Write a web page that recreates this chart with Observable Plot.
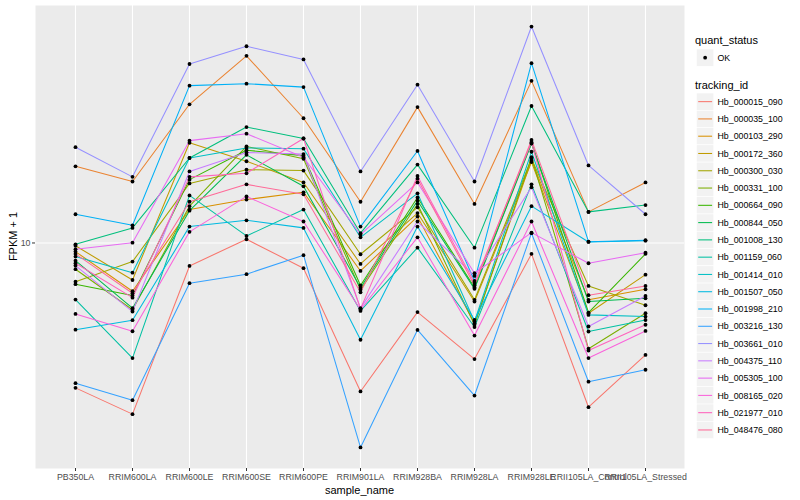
<!DOCTYPE html>
<html>
<head>
<meta charset="utf-8">
<script src="https://cdn.jsdelivr.net/npm/d3@7"></script>
<script src="https://cdn.jsdelivr.net/npm/@observablehq/plot@0.6"></script>
<style>
  html, body { margin: 0; padding: 0; background: #ffffff; }
  #chart { width: 800px; height: 500px; }
</style>
</head>
<body>
<div id="chart"></div>
<script>
// ---- data (FPKM + 1) ----
const samples = ["PB350LA","RRIM600LA","RRIM600LE","RRIM600SE","RRIM600PE","RRIM901LA","RRIM928BA","RRIM928LA","RRIM928LE","RRII105LA_Control","RRII105LA_Stressed"];
const trackingIds = ["Hb_000015_090","Hb_000035_100","Hb_000103_290","Hb_000172_360","Hb_000300_030","Hb_000331_100","Hb_000664_090","Hb_000844_050","Hb_001008_130","Hb_001159_060","Hb_001414_010","Hb_001507_050","Hb_001998_210","Hb_003216_130","Hb_003661_010","Hb_004375_110","Hb_005305_100","Hb_008165_020","Hb_021977_010","Hb_048476_080"];
const quantStatus = ["OK"];

const Hb_000015_090 = [3.67, 3.06, 8.53, 10.26, 8.40, 3.58, 6.20, 4.48, 9.27, 3.21, 4.61];
const Hb_000035_100 = [17.0, 15.3, 26.1, 36.5, 23.7, 13.3, 25.6, 13.1, 30.7, 12.4, 15.2];
const Hb_000103_290 = [9.42, 7.16, 12.6, 13.5, 14.2, 8.24, 12.0, 5.74, 17.7, 6.75, 7.26];
const Hb_000172_360 = [9.81, 7.74, 20.0, 17.6, 15.2, 8.65, 12.3, 6.67, 17.5, 6.15, 8.03];
const Hb_000300_030 = [7.65, 8.79, 15.1, 16.6, 16.5, 9.25, 12.8, 6.75, 17.9, 7.43, 6.50];
const Hb_000331_100 = [8.34, 6.30, 12.9, 19.5, 17.9, 7.23, 13.1, 5.68, 18.1, 4.81, 6.15];
const Hb_000664_090 = [7.52, 6.95, 15.5, 19.0, 18.3, 7.45, 13.7, 7.35, 20.0, 6.18, 9.27];
const Hb_000844_050 = [8.85, 6.37, 12.5, 18.4, 14.8, 7.34, 13.4, 7.28, 19.9, 6.67, 6.82];
const Hb_001008_130 = [9.91, 11.1, 18.0, 22.3, 20.6, 10.7, 17.2, 9.68, 25.8, 12.4, 13.0];
const Hb_001159_060 = [6.76, 4.51, 13.9, 10.5, 12.6, 6.25, 9.68, 5.59, 15.0, 5.42, 5.87];
const Hb_001414_010 = [9.10, 8.14, 18.0, 19.3, 19.2, 10.4, 14.1, 5.81, 18.8, 6.08, 6.01];
const Hb_001507_050 = [5.49, 5.86, 11.2, 11.7, 11.1, 5.12, 11.2, 5.87, 12.9, 10.07, 10.16];
const Hb_001998_210 = [12.2, 11.3, 29.7, 30.1, 29.4, 11.2, 18.9, 7.69, 34.7, 10.09, 10.19];
const Hb_003216_130 = [3.79, 3.37, 7.57, 8.06, 9.19, 2.43, 5.48, 3.48, 10.7, 3.83, 4.16];
const Hb_003661_010 = [19.4, 15.8, 34.5, 39.0, 35.6, 16.4, 29.9, 15.3, 44.7, 17.1, 12.2];
const Hb_004375_110 = [8.55, 6.22, 16.4, 18.7, 18.5, 6.37, 11.6, 7.96, 14.7, 5.61, 6.93];
const Hb_005305_100 = [9.57, 10.02, 20.3, 21.3, 18.1, 10.6, 15.2, 8.11, 10.74, 8.69, 9.35];
const Hb_008165_020 = [6.12, 5.43, 10.8, 13.8, 11.6, 6.30, 10.4, 5.27, 11.6, 4.51, 5.44];
const Hb_021977_010 = [8.69, 6.85, 15.8, 16.2, 20.6, 6.34, 15.9, 7.59, 20.1, 4.75, 5.68];
const Hb_048476_080 = [9.27, 7.06, 13.3, 15.0, 14.0, 7.11, 15.6, 7.45, 20.4, 6.97, 7.43];

const seriesValues = [Hb_000015_090, Hb_000035_100, Hb_000103_290, Hb_000172_360, Hb_000300_030,
  Hb_000331_100, Hb_000664_090, Hb_000844_050, Hb_001008_130, Hb_001159_060, Hb_001414_010,
  Hb_001507_050, Hb_001998_210, Hb_003216_130, Hb_003661_010, Hb_004375_110, Hb_005305_100,
  Hb_008165_020, Hb_021977_010, Hb_048476_080];

// ---- table for the library ----
const rows = [];
trackingIds.forEach((id, i) => {
  samples.forEach((s, j) => rows.push({tracking_id: id, sample_name: s, value: seriesValues[i][j], quant_status: "OK"}));
});

// ggplot2-like hue palette (polar LUV, c=100, l=65)
function hclHex(h, c, l) {
  const hr = h * Math.PI / 180;
  const U = c * Math.cos(hr), V = c * Math.sin(hr);
  const Xn = 95.047, Yn = 100, Zn = 108.883;
  const Y = l > 8 ? Yn * Math.pow((l + 16) / 116, 3) : Yn * l / 903.3;
  const den = Xn + 15 * Yn + 3 * Zn;
  const un = 4 * Xn / den, vn = 9 * Yn / den;
  const u = U / (13 * l) + un, v = V / (13 * l) + vn;
  const X = 9 * Y * u / (4 * v);
  const Z = Y * (12 - 3 * u - 20 * v) / (4 * v);
  const x = X / 100, y = Y / 100, z = Z / 100;
  let r = 3.240479 * x - 1.53715 * y - 0.498535 * z;
  let g = -0.969256 * x + 1.875992 * y + 0.041556 * z;
  let b = 0.055648 * x - 0.204043 * y + 1.057311 * z;
  const gam = t => { t = t <= 0.0031308 ? 12.92 * t : 1.055 * Math.pow(t, 1 / 2.4) - 0.055; return Math.max(0, Math.min(1, t)); };
  return d3.rgb(gam(r) * 255, gam(g) * 255, gam(b) * 255).formatHex();
}
const n = trackingIds.length;
const palette = trackingIds.map((_, i) => hclHex(15 + 360 * i / n, 100, 65));

// y domain: data range expanded by 5% on log scale (ggplot default)
const [vmin, vmax] = d3.extent(rows, d => d.value);
const lmin = Math.log10(vmin), lmax = Math.log10(vmax), pad = (lmax - lmin) * 0.05;
const yDomain = [Math.pow(10, lmin - pad), Math.pow(10, lmax + pad)];

const W = 800, H = 500;
const mL = 35, mR = 116, mT = 5, mB = 32;

const chart = Plot.plot({
  width: W, height: H,
  marginLeft: mL, marginRight: mR, marginTop: mT, marginBottom: mB,
  style: {fontFamily: "'Liberation Sans', Arial, Helvetica, sans-serif", fontSize: "8.8px", background: "#ffffff", color: "#4D4D4D"},
  x: {type: "point", domain: samples, padding: 0.6, label: null},
  y: {type: "log", domain: yDomain, label: null},
  color: {domain: trackingIds, range: palette},
  marks: [
    Plot.frame({fill: "#EBEBEB", stroke: null}),
    Plot.ruleX(samples, {x: d => d, stroke: "#ffffff", strokeWidth: 1.1}),
    Plot.ruleY([10], {y: d => d, stroke: "#ffffff", strokeWidth: 1.1}),
    Plot.axisY({ticks: [10], tickFormat: d => String(d), tickSize: 3, tickPadding: 2, stroke: "#333333", fill: "#4D4D4D", label: null, fontSize: 8.8}),
    Plot.axisX({tickSize: 3, tickPadding: 2, stroke: "#333333", fill: "#4D4D4D", label: null, fontSize: 8.8}),
    Plot.line(rows, {x: "sample_name", y: "value", z: "tracking_id", stroke: "tracking_id", strokeWidth: 1.05}),
    Plot.dot(rows, {x: "sample_name", y: "value", fill: "#000000", r: 1.9, stroke: null})
  ]
});
document.getElementById("chart").appendChild(chart);

// ---- axis titles and legend (drawn into the same SVG) ----
const svg = d3.select(chart);
const font = "'Liberation Sans', Arial, Helvetica, sans-serif";
svg.append("text").attr("x", mL + (W - mL - mR) / 2).attr("y", 494).attr("text-anchor", "middle")
  .attr("font-family", font).attr("font-size", 11).attr("fill", "#000").text("sample_name");
svg.append("text").attr("transform", `translate(17,${mT + (H - mT - mB) / 2}) rotate(-90)`).attr("text-anchor", "middle")
  .attr("font-family", font).attr("font-size", 11).attr("fill", "#000").text("FPKM + 1");

const lg = svg.append("g").attr("font-family", font).attr("text-anchor", "start");
const keyX = 696.5, keyS = 17.28, labX = 717.5;
lg.append("text").attr("x", 695).attr("y", 44).attr("text-anchor", "start").attr("font-size", 11).attr("fill", "#000").text("quant_status");
quantStatus.forEach((q, i) => {
  const y0 = 49 + i * keyS;
  lg.append("rect").attr("x", keyX).attr("y", y0).attr("width", keyS).attr("height", keyS).attr("fill", "#F2F2F2").attr("stroke", "#fff").attr("stroke-width", 0.6);
  lg.append("circle").attr("cx", keyX + keyS / 2).attr("cy", y0 + keyS / 2).attr("r", 1.9).attr("fill", "#000");
  lg.append("text").attr("x", labX).attr("y", y0 + keyS / 2 + 3.1).attr("text-anchor", "start").attr("font-size", 8.8).attr("fill", "#000").text(q);
});
lg.append("text").attr("x", 695).attr("y", 88.5).attr("text-anchor", "start").attr("font-size", 11).attr("fill", "#000").text("tracking_id");
trackingIds.forEach((id, i) => {
  const y0 = 93 + i * keyS;
  lg.append("rect").attr("x", keyX).attr("y", y0).attr("width", keyS).attr("height", keyS).attr("fill", "#F2F2F2").attr("stroke", "#fff").attr("stroke-width", 0.6);
  lg.append("line").attr("x1", keyX + 1.7).attr("x2", keyX + keyS - 1.7).attr("y1", y0 + keyS / 2).attr("y2", y0 + keyS / 2)
    .attr("stroke", palette[i]).attr("stroke-width", 1.05);
  lg.append("text").attr("x", labX).attr("y", y0 + keyS / 2 + 3.1).attr("text-anchor", "start").attr("font-size", 8.8).attr("fill", "#000").text(id);
});
</script>
</body>
</html>
